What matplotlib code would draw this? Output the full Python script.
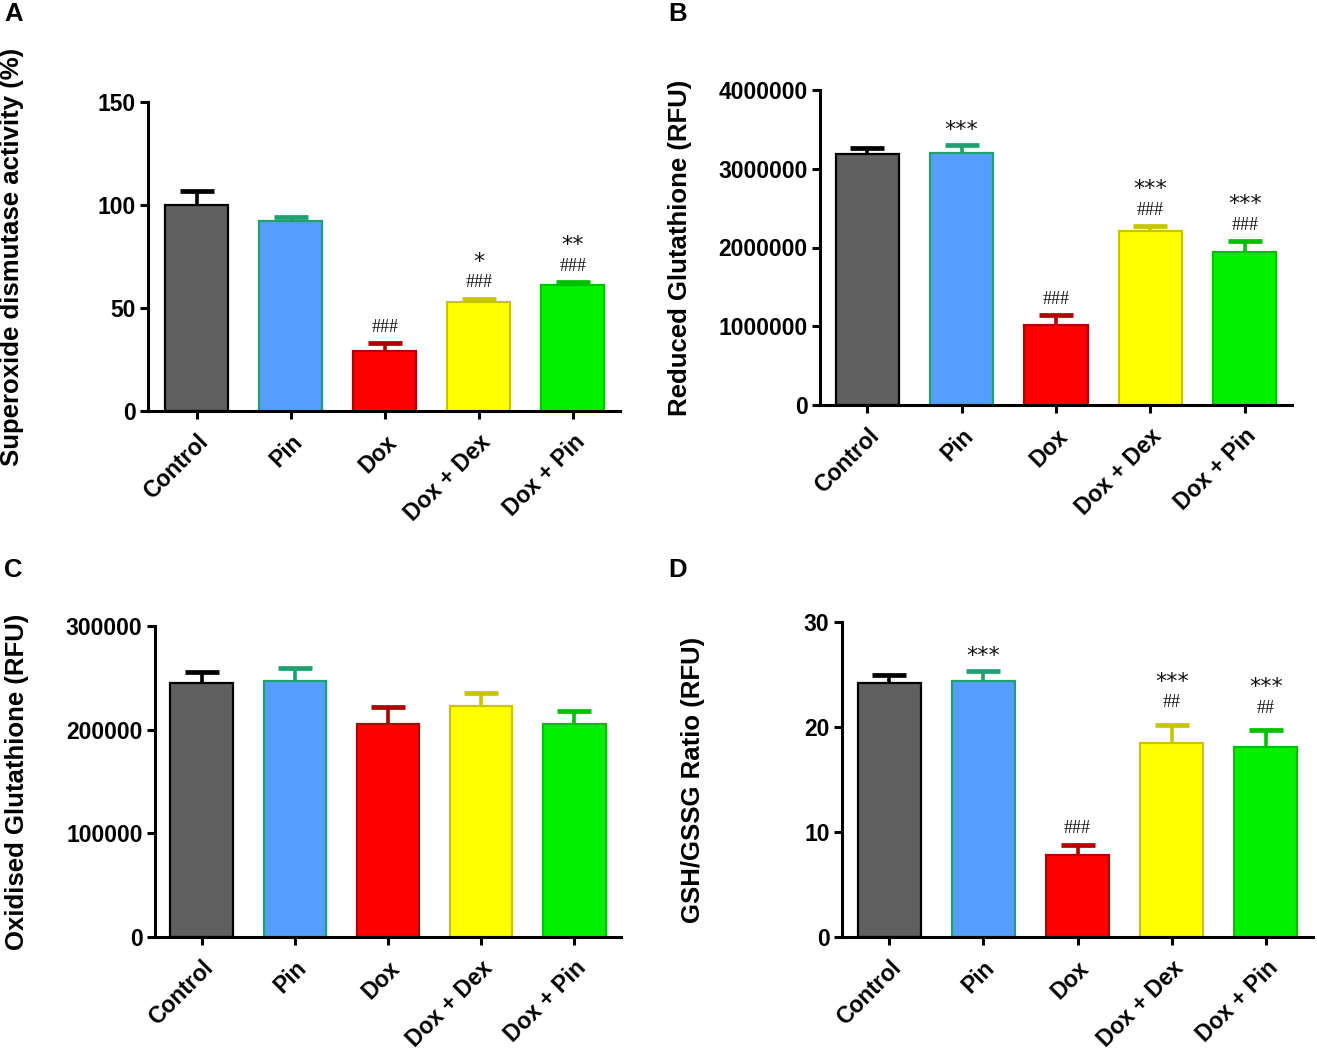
import numpy as np
import matplotlib
matplotlib.use('Agg')
import matplotlib.pyplot as plt

plt.rcParams['font.family'] = ['Liberation Sans', 'DejaVu Sans']

# groups and colours
groups = ['Control', 'Pin', 'Dox', 'Dox + Dex', 'Dox + Pin']
fill_colors = ['#606060', '#559EFF', '#FF0000', '#FFFF00', '#00F000']
edge_colors = ['#000000', '#1FA070', '#B00000', '#C8C400', '#00C000']

# A: superoxide dismutase activity (%)
sod_mean = [100, 92, 29, 53, 61]
sod_err = [7, 2, 4, 1.5, 1.5]
sod_marks = [[], [], ['###'], ['###', '*'], ['###', '**']]

# B: reduced glutathione (RFU)
gsh_mean = [3190000, 3200000, 1020000, 2210000, 1940000]
gsh_err = [70000, 100000, 120000, 60000, 140000]
gsh_marks = [[], ['***'], ['###'], ['###', '***'], ['###', '***']]

# C: oxidised glutathione (RFU)
gssg_mean = [245000, 247000, 205000, 223000, 205000]
gssg_err = [10500, 12500, 16500, 12000, 13000]
gssg_marks = [[], [], [], [], []]

# D: GSH/GSSG ratio
ratio_mean = [24.2, 24.4, 7.8, 18.5, 18.1]
ratio_err = [0.8, 0.9, 1.0, 1.7, 1.6]
ratio_marks = [[], ['***'], ['###'], ['##', '***'], ['##', '***']]

panels = [
    ('A', [148, 102, 620, 411], sod_mean, sod_err, sod_marks,
     'Superoxide dismutase activity (%)', (0, 150), [0, 50, 100, 150], -0.52),
    ('B', [820, 90, 1292, 405], gsh_mean, gsh_err, gsh_marks,
     'Reduced Glutathione (RFU)', (0, 4000000), [0, 1000000, 2000000, 3000000, 4000000], -0.5),
    ('C', [155, 626, 621, 937], gssg_mean, gssg_err, gssg_marks,
     'Oxidised Glutathione (RFU)', (0, 300000), [0, 100000, 200000, 300000], -0.5),
    ('D', [842, 622, 1313, 937], ratio_mean, ratio_err, ratio_marks,
     'GSH/GSSG Ratio (RFU)', (0, 30), [0, 10, 20, 30], -0.5),
]
letter_pos = {'A': (4, 2), 'B': (668, 2), 'C': (4, 558), 'D': (668, 558)}
ylabel_x = {'A': 12, 'B': 680, 'C': 17, 'D': 693}

W, H = 1317, 1052
fig = plt.figure(figsize=(W / 100, H / 100), dpi=100)
px = 72 / 100  # points per pixel

for letter, box, mean, err, marks, ylab, ylim, yticks, xmin in panels:
    l, t, r, b = box
    ax = fig.add_axes([l / W, 1 - b / H, (r - l) / W, (b - t) / H])
    x = np.arange(len(groups))
    ax.bar(x, mean, width=0.67, color=fill_colors, edgecolor=edge_colors,
           linewidth=1.6, zorder=2)
    for i in range(len(groups)):
        eb = ax.errorbar(x[i], mean[i], yerr=[[0], [err[i]]], fmt='none',
                         ecolor=edge_colors[i], elinewidth=2.6, capsize=12,
                         capthick=3.4, zorder=3)
        eb[1][0].set_visible(False)  # no lower cap
        top = mean[i] + err[i]
        for k, s in enumerate(marks[i]):
            if s.startswith('#'):
                off = 22 if s == '##' else 16
                ax.annotate(s, (x[i], top), xytext=(0, off * px),
                            textcoords='offset points', ha='center', va='center',
                            fontsize=13, family=['Liberation Serif'], color='#111111')
            else:
                off = 15 if k == 0 else (43 if marks[i][0] == '##' else 37)
                ax.annotate(s, (x[i], top), xytext=(0, off * px),
                            textcoords='offset points', ha='center', va='center',
                            fontsize=16, family=['DejaVu Sans'], color='#111111')
    ax.set_xlim(xmin, 4.5)
    ax.set_ylim(*ylim)
    ax.set_yticks(yticks)
    ax.set_yticklabels([str(v) for v in yticks], fontsize=16.5, fontweight='bold')
    ax.set_xticks(x)
    ax.set_xticklabels(groups, rotation=45, ha='right', rotation_mode='anchor',
                       fontsize=16.5, fontweight='bold')
    for side in ['top', 'right']:
        ax.spines[side].set_visible(False)
    for side in ['left', 'bottom']:
        ax.spines[side].set_linewidth(2.2)
    ax.tick_params(axis='both', direction='out', length=6, width=2.2, pad=3)
    ax.tick_params(axis='x', pad=8)
    fig.text(ylabel_x[letter] / W, 1 - ((t + b) / 2) / H, ylab,
             rotation=90, ha='center', va='center', fontsize=18.5, fontweight='bold')
    lx, ly = letter_pos[letter]
    fig.text(lx / W, 1 - ly / H, letter, ha='left', va='top', fontsize=18.5,
             fontweight='bold')

fig.savefig('out.png', dpi=100)
